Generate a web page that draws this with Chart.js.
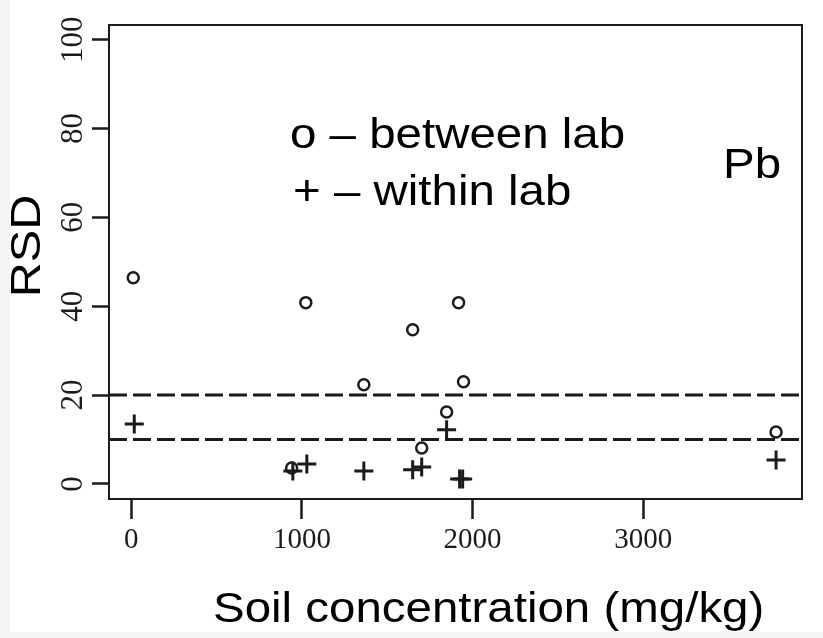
<!DOCTYPE html>
<html>
<head>
<meta charset="utf-8">
<script src="https://cdn.jsdelivr.net/npm/chart.js@4.4.1/dist/chart.umd.min.js"></script>
<style>
    html, body { margin: 0; padding: 0; background: #f4f4f4; }
    #wrap { width: 823px; height: 638px; }
</style>
</head>
<body>
<div id="wrap"><canvas id="rsdChart" width="823" height="638"></canvas></div>
<script>
// Pb: relative standard deviation vs soil concentration
const betweenConc = [12, 940, 1023, 1363, 1649, 1702, 1848, 1918, 1947, 3778];
const betweenRsd = [46.4, 3.6, 40.8, 22.3, 34.7, 8.1, 16.2, 40.8, 23.0, 11.7];
const withinConc = [18, 947, 1029, 1363, 1649, 1702, 1848, 1924, 1942, 3778];
const withinRsd = [13.5, 2.9, 4.5, 2.9, 3.2, 3.8, 12.2, 1.1, 1.1, 5.4];
const refLines = [10, 20];
const xTicks = [0, 1000, 2000, 3000];
const yTicks = [0, 20, 40, 60, 80, 100];

window.addEventListener('DOMContentLoaded', () => {
    const canvas = document.getElementById('rsdChart');
    const ink = '#1b1b1b';
    const sans = '"Liberation Sans", Arial, sans-serif';
    const serif = '"Liberation Serif", "Times New Roman", serif';
    const stretch = 1.13; // text in the original is slightly wide

    const toPoints = (xs, ys) => xs.map((x, i) => ({ x, y: ys[i] }));

    // page background + white panel
    const backdrop = {
        id: 'backdrop',
        beforeDraw(chart) {
            const { ctx, width, height } = chart;
            ctx.save();
            ctx.fillStyle = '#f4f4f4';
            ctx.fillRect(0, 0, width, height);
            ctx.fillStyle = '#ffffff';
            ctx.fillRect(10, 0, width - 10, height - 6);
            ctx.restore();
        },
    };

    // dashed reference lines at 10 % and 20 %
    const refLinePlugin = {
        id: 'refLines',
        beforeDatasetsDraw(chart) {
            const { ctx, chartArea } = chart;
            const yScale = chart.scales.y;
            ctx.save();
            ctx.strokeStyle = ink;
            ctx.lineWidth = 3;
            ctx.setLineDash([18, 6]);
            refLines.forEach((v) => {
                const y = yScale.getPixelForValue(v);
                ctx.beginPath();
                ctx.moveTo(chartArea.left, y);
                ctx.lineTo(chartArea.right, y);
                ctx.stroke();
            });
            ctx.restore();
        },
    };

    // box round the plot, axis titles and the text notes
    const framePlugin = {
        id: 'frame',
        afterDraw(chart) {
            const { ctx, chartArea } = chart;
            ctx.save();
            ctx.strokeStyle = ink;
            ctx.lineWidth = 2;
            ctx.strokeRect(chartArea.left, chartArea.top, chartArea.right - chartArea.left, chartArea.bottom - chartArea.top);

            const note = (text, x, y, angle = 0, align = 'left') => {
                ctx.save();
                ctx.translate(x, y);
                ctx.rotate(angle);
                ctx.scale(stretch, 1);
                ctx.textAlign = align;
                ctx.fillText(text, 0, 0);
                ctx.restore();
            };
            ctx.fillStyle = '#000';
            ctx.font = `42px ${sans}`;
            ctx.textBaseline = 'alphabetic';
            note('o \u2013 between lab', 290, 148);
            note('+ \u2013 within lab', 293, 205);
            note('Pb', 723, 178);
            note('Soil concentration (mg/kg)', 213, 622);

            ctx.font = `43px ${sans}`;
            ctx.textBaseline = 'middle';
            note('RSD', 28, 246, -Math.PI / 2, 'center');
            ctx.restore();
        },
    };

    const chart = new Chart(canvas, {
        type: 'scatter',
        data: {
            datasets: [
                {
                    label: 'between lab',
                    data: toPoints(betweenConc, betweenRsd),
                    pointStyle: 'circle',
                    pointRadius: 5.5,
                    borderColor: ink,
                    backgroundColor: 'rgba(0, 0, 0, 0)',
                    borderWidth: 2.5,
                },
                {
                    label: 'within lab',
                    data: toPoints(withinConc, withinRsd),
                    pointStyle: 'cross',
                    pointRadius: 9.5,
                    borderColor: ink,
                    borderWidth: 3,
                },
            ],
        },
        options: {
            responsive: false,
            animation: false,
            layout: {
                padding: { left: 0, top: 25, right: 21, bottom: 0 },
            },
            plugins: {
                legend: { display: false },
                tooltip: { enabled: false },
            },
            scales: {
                x: {
                    type: 'linear',
                    min: -130,
                    max: 3930,
                    afterBuildTicks: (scale) => {
                        scale.ticks = xTicks.map((value) => ({ value }));
                    },
                    afterFit: (scale) => {
                        scale.height = 139;
                    },
                    border: { display: false },
                    grid: {
                        drawOnChartArea: false,
                        drawTicks: true,
                        tickLength: 20,
                        tickWidth: 2.5,
                        tickColor: ink,
                    },
                    ticks: {
                        autoSkip: false,
                        maxRotation: 0,
                        minRotation: 0,
                        padding: 4,
                        color: ink,
                        font: { family: serif, size: 29 },
                        callback: (value) => String(value),
                    },
                },
                y: {
                    type: 'linear',
                    min: -3.4,
                    max: 103.3,
                    afterBuildTicks: (scale) => {
                        scale.ticks = yTicks.map((value) => ({ value }));
                    },
                    afterFit: (scale) => {
                        scale.width = 109;
                    },
                    border: { display: false },
                    grid: {
                        drawOnChartArea: false,
                        drawTicks: true,
                        tickLength: 17,
                        tickWidth: 2.5,
                        tickColor: ink,
                    },
                    ticks: {
                        autoSkip: false,
                        minRotation: 90,
                        maxRotation: 90,
                        crossAlign: 'center',
                        padding: -5,
                        color: ink,
                        font: { family: serif, size: 31 },
                        callback: (value) => String(value),
                    },
                },
            },
        },
        plugins: [backdrop, refLinePlugin, framePlugin],
    });

    return chart;
});
</script>
</body>
</html>
